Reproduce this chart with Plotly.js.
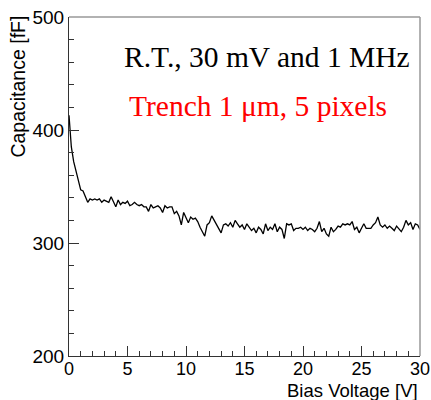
<!DOCTYPE html>
<html>
<head>
<meta charset="utf-8">
<script src="https://cdn.plot.ly/plotly-3.0.1.min.js"></script>
<style>
html,body{margin:0;padding:0;background:#fff;}
#chart{width:431px;height:400px;}
</style>
</head>
<body>
<div id="chart"></div>
<script>
// Bias voltage [V]
const voltage = [
 0.0,0.2,0.4,0.6,0.8,1.0,1.2,1.4,1.6,1.8,
 2.0,2.2,2.4,2.6,2.8,3.0,3.2,3.4,3.6,3.8,
 4.0,4.2,4.4,4.6,4.8,5.0,5.2,5.4,5.6,5.8,
 6.0,6.2,6.4,6.6,6.8,7.0,7.2,7.4,7.6,7.8,
 8.0,8.2,8.4,8.6,8.8,9.0,9.2,9.4,9.6,9.8,
 10.0,10.2,10.4,10.6,10.8,11.0,11.2,11.4,11.6,11.8,
 12.0,12.2,12.4,12.6,12.8,13.0,13.2,13.4,13.6,13.8,
 14.0,14.2,14.4,14.6,14.8,15.0,15.2,15.4,15.6,15.8,
 16.0,16.2,16.4,16.6,16.8,17.0,17.2,17.4,17.6,17.8,
 18.0,18.2,18.4,18.6,18.8,19.0,19.2,19.4,19.6,19.8,
 20.0,20.2,20.4,20.6,20.8,21.0,21.2,21.4,21.6,21.8,
 22.0,22.2,22.4,22.6,22.8,23.0,23.2,23.4,23.6,23.8,
 24.0,24.2,24.4,24.6,24.8,25.0,25.2,25.4,25.6,25.8,
 26.0,26.2,26.4,26.6,26.8,27.0,27.2,27.4,27.6,27.8,
 28.0,28.2,28.4,28.6,28.8,29.0,29.2,29.4,29.6,29.8,
 30.0
];
// Capacitance [fF]
const capacitance = [
 413,385,372,363,355,347,346,340,336,339,
 338,339,338,339,336,338,337,336,341,336,
 332,338,334,336,335,337,333,334,336,334,
 333,334,332,332,328,334,331,332,333,331,
 327,333,331,332,332,326,328,324,316,327,
 322,318,323,321,322,319,314,310,306,316,
 318,324,320,317,313,309,316,317,315,318,
 314,320,317,314,316,312,317,314,311,313,
 309,314,312,308,317,311,314,312,317,310,
 314,312,304,317,316,317,311,313,313,314,
 312,314,311,313,312,310,313,319,310,313,
 308,306,314,310,312,315,314,317,316,317,
 316,319,312,314,309,313,317,313,313,313,
 316,318,323,316,314,316,313,315,313,311,
 315,312,310,314,320,316,318,312,317,316,
 312
];
const xTickVals = [0,5,10,15,20,25,30];
const xTickText = ["0","5","10","15","20","25","30"];
const yTickVals = [200,300,400,500];
const yTickText = ["200","300","400","500"];
const xTitle = "Bias Voltage [V]";
const yTitle = "Capacitance [fF]";
const label1 = "R.T., 30 mV and 1 MHz";
const label2 = "Trench 1 μm, 5 pixels";

const trace = {
  x: voltage, y: capacitance, type: 'scatter', mode: 'lines',
  line: {color: '#000000', width: 1.3}, hoverinfo: 'skip'
};

const tickFont = {family: 'Liberation Sans, Arial, sans-serif', size: 19, color: '#000'};
const layout = {
  width: 431, height: 400,
  margin: {l: 69, r: 11, t: 17, b: 44},
  paper_bgcolor: '#fff', plot_bgcolor: '#fff',
  showlegend: false,
  xaxis: {
    range: [0, 30], tickmode: 'array', tickvals: xTickVals, ticktext: xTickText,
    ticks: 'inside', ticklen: 10, tickwidth: 1, tickcolor: '#333',
    minor: {dtick: 1, ticks: 'inside', ticklen: 5, tickwidth: 1, tickcolor: '#333'},
    showgrid: false, zeroline: false, showline: true, linecolor: '#333', linewidth: 1,
    ticklabelstandoff: -4,
    tickfont: {family: 'Liberation Sans, Arial, sans-serif', size: 18, color: '#000'}, fixedrange: true
  },
  yaxis: {
    range: [200, 500], tickmode: 'array', tickvals: yTickVals, ticktext: yTickText,
    ticks: 'inside', ticklen: 10, tickwidth: 1, tickcolor: '#333',
    minor: {dtick: 20, ticks: 'inside', ticklen: 5, tickwidth: 1, tickcolor: '#333'},
    showgrid: false, zeroline: false, showline: true, linecolor: '#333', linewidth: 1,
    tickfont: tickFont, fixedrange: true
  },
  shapes: [
    {type: 'line', xref: 'paper', yref: 'paper', x0: 0, x1: 1, y0: 1, y1: 1, line: {color: '#999', width: 1.5}},
    {type: 'line', xref: 'paper', yref: 'paper', x0: 1, x1: 1, y0: 0, y1: 1, line: {color: '#999', width: 1.5}}
  ],
  annotations: [
    {text: label1, xref: 'paper', yref: 'paper', x: 0.152, y: 0.882, xanchor: 'left', yanchor: 'middle',
     showarrow: false, font: {family: 'Liberation Serif, Times New Roman, serif', size: 29.5, color: '#000'}},
    {text: label2, xref: 'paper', yref: 'paper', x: 0.166, y: 0.737, xanchor: 'left', yanchor: 'middle',
     showarrow: false, font: {family: 'Liberation Serif, Times New Roman, serif', size: 29.5, color: '#ff0000'}},
    {text: xTitle, xref: 'paper', yref: 'paper', x: 1, y: -0.102, xanchor: 'right', yanchor: 'middle',
     showarrow: false, font: {family: 'Liberation Sans, Arial, sans-serif', size: 18.5, color: '#000'}},
    {text: yTitle, xref: 'paper', yref: 'paper', x: -0.145, y: 0.795, xanchor: 'center', yanchor: 'middle',
     textangle: -90, showarrow: false, font: {family: 'Liberation Sans, Arial, sans-serif', size: 19.5, color: '#000'}}
  ]
};

Plotly.newPlot('chart', [trace], layout, {staticPlot: true, displayModeBar: false});
</script>
</body>
</html>
